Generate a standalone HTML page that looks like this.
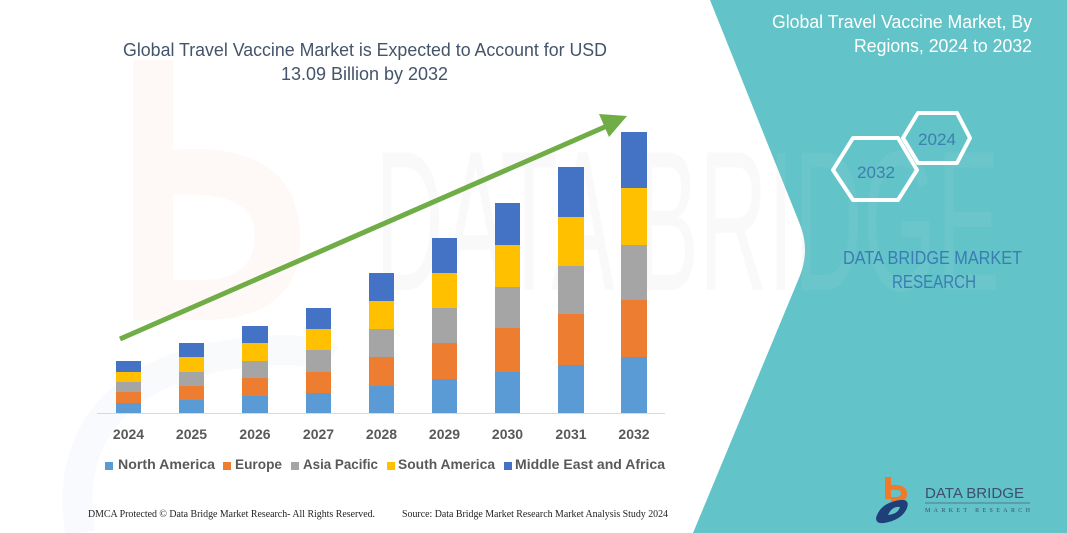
<!DOCTYPE html>
<html>
<head>
<meta charset="utf-8">
<style>
html,body{margin:0;padding:0;background:#fff;}
svg{display:block;}
</style>
</head>
<body>
<svg width="1067" height="533" viewBox="0 0 1067 533" xmlns="http://www.w3.org/2000/svg">
  <defs>
    <clipPath id="tealclip">
      <path d="M710,0 L799,222 Q811,250 799,278 L693,533 L1067,533 L1067,0 Z"/>
    </clipPath>
  </defs>
  <rect width="1067" height="533" fill="#ffffff"/>
  <!-- faint watermark logo -->
  <g opacity="0.35">
    <rect x="133" y="60" width="40" height="260" fill="#fdeee6"/>
    <path d="M173,150 Q300,140 300,240 Q300,320 200,320 L173,320 L173,280 L200,280 Q255,280 255,235 Q255,190 173,195 Z" fill="#fdeee6"/>
    <path d="M80,533 Q60,400 200,360 Q300,340 330,360" fill="none" stroke="#eef2f8" stroke-width="30"/>
  </g>
  <text x="375" y="290" font-family="Liberation Sans, sans-serif" font-size="200" fill="#000" opacity="0.02" textLength="625" lengthAdjust="spacingAndGlyphs">DATA BRIDGE</text>

  <!-- teal panel -->
  <path d="M710,0 L799,222 Q811,250 799,278 L693,533 L1067,533 L1067,0 Z" fill="#62c3c8"/>
  <g clip-path="url(#tealclip)">
    <text x="375" y="290" font-family="Liberation Sans, sans-serif" font-size="200" fill="#fff" opacity="0.05" textLength="625" lengthAdjust="spacingAndGlyphs">DATA BRIDGE</text>
  </g>

  <!-- title -->
  <text x="365" y="56" text-anchor="middle" font-family="Liberation Sans, sans-serif" font-size="18" fill="#44546a" textLength="484" lengthAdjust="spacingAndGlyphs">Global Travel Vaccine Market is Expected to Account for USD</text>
  <text x="364.5" y="80" text-anchor="middle" font-family="Liberation Sans, sans-serif" font-size="18" fill="#44546a" textLength="167" lengthAdjust="spacingAndGlyphs">13.09 Billion by 2032</text>

  <!-- axis -->
  <line x1="97" y1="413.5" x2="665" y2="413.5" stroke="#d9d9d9" stroke-width="1"/>

  <!-- bars -->
  <g>
    <rect x="116" y="403" width="25" height="10" fill="#5b9bd5"/>
    <rect x="116" y="392" width="25" height="11" fill="#ed7d31"/>
    <rect x="116" y="382" width="25" height="10" fill="#a5a5a5"/>
    <rect x="116" y="372" width="25" height="10" fill="#ffc000"/>
    <rect x="116" y="361" width="25" height="11" fill="#4472c4"/>

    <rect x="179" y="400" width="25" height="13" fill="#5b9bd5"/>
    <rect x="179" y="386" width="25" height="14" fill="#ed7d31"/>
    <rect x="179" y="372" width="25" height="14" fill="#a5a5a5"/>
    <rect x="179" y="357" width="25" height="15" fill="#ffc000"/>
    <rect x="179" y="343" width="25" height="14" fill="#4472c4"/>

    <rect x="242" y="396" width="26" height="17" fill="#5b9bd5"/>
    <rect x="242" y="378" width="26" height="18" fill="#ed7d31"/>
    <rect x="242" y="361" width="26" height="17" fill="#a5a5a5"/>
    <rect x="242" y="343" width="26" height="18" fill="#ffc000"/>
    <rect x="242" y="326" width="26" height="17" fill="#4472c4"/>

    <rect x="306" y="393" width="25" height="20" fill="#5b9bd5"/>
    <rect x="306" y="372" width="25" height="21" fill="#ed7d31"/>
    <rect x="306" y="350" width="25" height="22" fill="#a5a5a5"/>
    <rect x="306" y="329" width="25" height="21" fill="#ffc000"/>
    <rect x="306" y="308" width="25" height="21" fill="#4472c4"/>

    <rect x="369" y="386" width="25" height="27" fill="#5b9bd5"/>
    <rect x="369" y="357" width="25" height="29" fill="#ed7d31"/>
    <rect x="369" y="329" width="25" height="28" fill="#a5a5a5"/>
    <rect x="369" y="301" width="25" height="28" fill="#ffc000"/>
    <rect x="369" y="273" width="25" height="28" fill="#4472c4"/>

    <rect x="432" y="379" width="25" height="34" fill="#5b9bd5"/>
    <rect x="432" y="343" width="25" height="36" fill="#ed7d31"/>
    <rect x="432" y="308" width="25" height="35" fill="#a5a5a5"/>
    <rect x="432" y="273" width="25" height="35" fill="#ffc000"/>
    <rect x="432" y="238" width="25" height="35" fill="#4472c4"/>

    <rect x="495" y="372" width="25" height="41" fill="#5b9bd5"/>
    <rect x="495" y="328" width="25" height="44" fill="#ed7d31"/>
    <rect x="495" y="287" width="25" height="41" fill="#a5a5a5"/>
    <rect x="495" y="245" width="25" height="42" fill="#ffc000"/>
    <rect x="495" y="203" width="25" height="42" fill="#4472c4"/>

    <rect x="558" y="365" width="26" height="48" fill="#5b9bd5"/>
    <rect x="558" y="314" width="26" height="51" fill="#ed7d31"/>
    <rect x="558" y="266" width="26" height="48" fill="#a5a5a5"/>
    <rect x="558" y="217" width="26" height="49" fill="#ffc000"/>
    <rect x="558" y="167" width="26" height="50" fill="#4472c4"/>

    <rect x="621" y="357" width="26" height="56" fill="#5b9bd5"/>
    <rect x="621" y="300" width="26" height="57" fill="#ed7d31"/>
    <rect x="621" y="245" width="26" height="55" fill="#a5a5a5"/>
    <rect x="621" y="188" width="26" height="57" fill="#ffc000"/>
    <rect x="621" y="132" width="26" height="56" fill="#4472c4"/>
  </g>

  <!-- arrow -->
  <line x1="120" y1="339" x2="607" y2="126" stroke="#70ad47" stroke-width="5"/>
  <polygon points="599,114 627,116 609,137" fill="#70ad47"/>

  <!-- year labels -->
  <g font-family="Liberation Sans, sans-serif" font-size="14" font-weight="bold" fill="#595959" text-anchor="middle">
    <text x="128.5" y="439">2024</text>
    <text x="191.5" y="439">2025</text>
    <text x="255" y="439">2026</text>
    <text x="318.5" y="439">2027</text>
    <text x="381.5" y="439">2028</text>
    <text x="444.5" y="439">2029</text>
    <text x="507.5" y="439">2030</text>
    <text x="571" y="439">2031</text>
    <text x="634" y="439">2032</text>
  </g>

  <!-- legend -->
  <g font-family="Liberation Sans, sans-serif" font-size="14" font-weight="bold" fill="#595959">
    <rect x="105" y="462" width="8" height="8" fill="#5b9bd5"/>
    <text x="118" y="469" textLength="97" lengthAdjust="spacingAndGlyphs">North America</text>
    <rect x="223" y="462" width="8" height="8" fill="#ed7d31"/>
    <text x="235" y="469" textLength="47" lengthAdjust="spacingAndGlyphs">Europe</text>
    <rect x="291" y="462" width="8" height="8" fill="#a5a5a5"/>
    <text x="303" y="469" textLength="75" lengthAdjust="spacingAndGlyphs">Asia Pacific</text>
    <rect x="387" y="462" width="8" height="8" fill="#ffc000"/>
    <text x="398" y="469" textLength="97" lengthAdjust="spacingAndGlyphs">South America</text>
    <rect x="504" y="462" width="8" height="8" fill="#4472c4"/>
    <text x="515" y="469" textLength="150" lengthAdjust="spacingAndGlyphs">Middle East and Africa</text>
  </g>

  <!-- footer -->
  <g font-family="Liberation Serif, serif" font-size="10" fill="#222">
    <text x="88" y="517" textLength="287" lengthAdjust="spacingAndGlyphs">DMCA Protected © Data Bridge Market Research- All Rights Reserved.</text>
    <text x="402" y="517" textLength="266" lengthAdjust="spacingAndGlyphs">Source: Data Bridge Market Research Market Analysis Study 2024</text>
  </g>

  <!-- right panel text -->
  <g font-family="Liberation Sans, sans-serif" font-size="18" fill="#ffffff" text-anchor="end">
    <text x="1032" y="28" textLength="260" lengthAdjust="spacingAndGlyphs">Global Travel Vaccine Market, By</text>
    <text x="1032" y="52" textLength="178" lengthAdjust="spacingAndGlyphs">Regions, 2024 to 2032</text>
  </g>

  <!-- hexagons -->
  <polygon points="903,138 918,113 957,113 970,138 957,163 918,163" fill="none" stroke="#ffffff" stroke-width="4" stroke-linejoin="round"/>
  <polygon points="833,170 853,138 898,138 917,170 898,200 853,200" fill="none" stroke="#ffffff" stroke-width="4" stroke-linejoin="round"/>
  <g font-family="Liberation Sans, sans-serif" font-size="17" fill="#3d7fae" text-anchor="middle">
    <text x="937" y="145" textLength="38" lengthAdjust="spacingAndGlyphs">2024</text>
    <text x="876" y="178" textLength="38" lengthAdjust="spacingAndGlyphs">2032</text>
  </g>

  <g font-family="Liberation Sans, sans-serif" font-size="18" fill="#3a7db2" text-anchor="middle">
    <text x="932.5" y="264" textLength="179" lengthAdjust="spacingAndGlyphs">DATA BRIDGE MARKET</text>
    <text x="934" y="288" textLength="84" lengthAdjust="spacingAndGlyphs">RESEARCH</text>
  </g>

  <!-- bottom logo -->
  <g>
    <rect x="885" y="477" width="6" height="22" fill="#f07a2a"/>
    <path d="M891,485 Q907,484 907,494 Q907,502 896,502 L891,502 L891,497 L895,497 Q901,497 901,493 Q901,489 891,490 Z" fill="#f07a2a"/>
    <path d="M876,518 Q880,503 900,500 Q910,499 907,508 Q902,520 884,523 Q876,524 876,518 Z M888,515 Q898,514 900,507 Q892,506 888,515 Z" fill="#1f3f78" fill-rule="evenodd"/>
    <text x="925" y="498" font-family="Liberation Sans, sans-serif" font-size="15" fill="#3d4f6e" textLength="99" lengthAdjust="spacingAndGlyphs">DATA BRIDGE</text>
    <line x1="925" y1="503" x2="1030" y2="503" stroke="#4a5f80" stroke-width="0.8"/>
    <text x="925" y="512" font-family="Liberation Serif, serif" font-size="6" fill="#3d4f6e" textLength="105" lengthAdjust="spacing">MARKET RESEARCH</text>
  </g>
</svg>
</body>
</html>
